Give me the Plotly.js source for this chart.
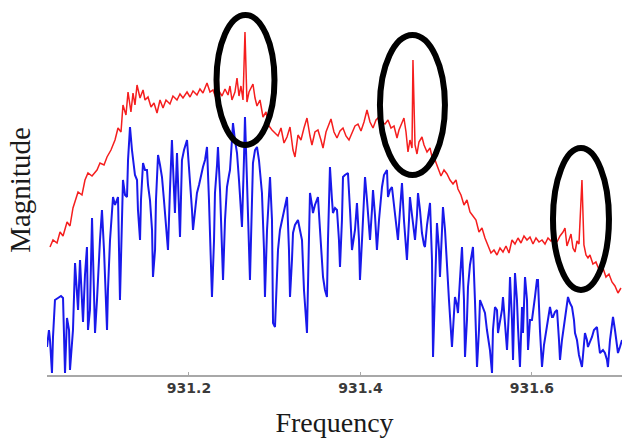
<!DOCTYPE html>
<html>
<head>
<meta charset="utf-8">
<script src="https://cdn.plot.ly/plotly-3.0.1.min.js"></script>
<style>html,body{margin:0;padding:0;background:#fff;}#chart{width:622px;height:438px;}</style>
</head>
<body>
<div id="chart"></div>
<script>
// Red trace (upper spectrum)
var redFreq = [931.0379,931.0414,931.0461,931.0496,931.0531,931.0578,931.0612,931.0647,931.0706,931.0752,931.0787,931.0822,931.0869,931.0927,931.0962,931.1009,931.1044,931.1090,931.1137,931.1172,931.1207,931.1230,931.1265,931.1289,931.1323,931.1347,931.1370,931.1394,931.1429,931.1464,931.1487,931.1522,931.1557,931.1592,931.1627,931.1662,931.1697,931.1732,931.1778,931.1813,931.1860,931.1895,931.1930,931.1977,931.2012,931.2047,931.2093,931.2128,931.2163,931.2210,931.2245,931.2280,931.2315,931.2350,931.2385,931.2420,931.2455,931.2478,931.2501,931.2536,931.2560,931.2583,931.2606,931.2630,931.2653,931.2676,931.2700,931.2723,931.2746,931.2770,931.2793,931.2828,931.2863,931.2898,931.2933,931.2968,931.3003,931.3038,931.3073,931.3108,931.3143,931.3178,931.3213,931.3236,931.3271,931.3306,931.3341,931.3376,931.3411,931.3434,931.3469,931.3504,931.3539,931.3563,931.3598,931.3633,931.3656,931.3691,931.3726,931.3761,931.3796,931.3831,931.3866,931.3901,931.3936,931.3971,931.4006,931.4041,931.4076,931.4111,931.4146,931.4181,931.4216,931.4251,931.4286,931.4321,931.4356,931.4391,931.4426,931.4449,931.4484,931.4507,931.4531,931.4554,931.4577,931.4601,931.4612,931.4636,931.4659,931.4682,931.4717,931.4741,931.4776,931.4811,931.4834,931.4869,931.4904,931.4939,931.4974,931.5009,931.5044,931.5079,931.5114,931.5137,931.5172,931.5207,931.5242,931.5277,931.5312,931.5347,931.5382,931.5417,931.5452,931.5487,931.5522,931.5557,931.5592,931.5627,931.5662,931.5697,931.5732,931.5767,931.5802,931.5837,931.5872,931.5907,931.5942,931.5977,931.6012,931.6047,931.6082,931.6117,931.6152,931.6187,931.6222,931.6257,931.6292,931.6327,931.6362,931.6385,931.6408,931.6432,931.6455,931.6478,931.6502,931.6525,931.6548,931.6583,931.6606,931.6630,931.6653,931.6676,931.6711,931.6746,931.6793,931.6828,931.6863,931.6898,931.6933,931.6968,931.7003,931.7038];
var redMag = [128,135,132,143,139,153,149,167,183,180,195,202,199,205,212,210,218,225,235,247,243,270,260,283,263,282,270,290,277,285,275,278,268,272,262,275,267,275,271,279,275,281,277,283,278,284,280,286,282,292,283,285,277,284,279,286,280,289,275,283,297,279,289,275,343,273,283,287,291,277,269,275,258,263,249,245,242,239,247,232,238,248,225,218,240,235,247,257,239,230,243,245,235,227,243,251,256,243,237,244,247,239,235,242,249,251,244,253,265,253,247,255,258,253,251,255,247,249,237,245,253,257,243,223,235,227,315,230,221,233,238,230,223,227,218,215,207,199,205,201,195,191,195,186,180,170,175,163,159,155,143,147,137,129,122,125,120,127,123,129,122,135,131,137,132,139,135,138,131,137,133,135,131,137,134,138,133,139,143,147,129,135,141,127,123,134,131,195,130,120,117,120,111,113,103,107,98,101,93,89,82,87];

// Blue trace (lower spectrum)
var blueFreq = [931.0344,931.0367,931.0379,931.0402,931.0414,931.0437,931.0472,931.0507,931.0531,931.0554,931.0577,931.0601,931.0612,931.0636,931.0647,931.0671,931.0694,931.0706,931.0729,931.0752,931.0764,931.0787,931.0810,931.0822,931.0845,931.0869,931.0892,931.0904,931.0927,931.0939,931.0962,931.0985,931.1009,931.1044,931.1055,931.1079,931.1102,931.1114,931.1137,931.1160,931.1172,931.1195,931.1219,931.1230,931.1254,931.1277,931.1289,931.1312,931.1335,931.1347,931.1370,931.1394,931.1405,931.1429,931.1440,931.1464,931.1487,931.1510,931.1522,931.1545,931.1569,931.1580,931.1604,931.1615,931.1639,931.1662,931.1685,931.1708,931.1720,931.1743,931.1755,931.1778,931.1801,931.1825,931.1836,931.1860,931.1883,931.1895,931.1918,931.1942,931.1977,931.2000,931.2012,931.2035,931.2047,931.2070,931.2093,931.2117,931.2128,931.2152,931.2163,931.2187,931.2210,931.2233,931.2257,931.2268,931.2292,931.2303,931.2327,931.2338,931.2362,931.2385,931.2397,931.2420,931.2443,931.2467,931.2478,931.2501,931.2513,931.2536,931.2560,931.2583,931.2595,931.2618,931.2641,931.2653,931.2676,931.2700,931.2711,931.2735,931.2746,931.2770,931.2793,931.2816,931.2840,931.2851,931.2875,931.2886,931.2910,931.2933,931.2945,931.2968,931.2980,931.3003,931.3026,931.3038,931.3061,931.3096,931.3120,931.3143,931.3166,931.3178,931.3201,931.3213,931.3236,931.3259,931.3271,931.3294,931.3318,931.3341,931.3365,931.3376,931.3399,931.3411,931.3434,931.3446,931.3469,931.3504,931.3528,931.3551,931.3563,931.3586,931.3609,931.3621,931.3644,931.3668,931.3679,931.3703,931.3726,931.3749,931.3761,931.3784,931.3796,931.3819,931.3854,931.3878,931.3901,931.3936,931.3959,931.3983,931.3994,931.4018,931.4041,931.4053,931.4076,931.4099,931.4111,931.4134,931.4146,931.4169,931.4192,931.4216,931.4251,931.4274,931.4309,931.4321,931.4344,931.4367,931.4391,931.4402,931.4426,931.4437,931.4461,931.4484,931.4507,931.4542,931.4566,931.4577,931.4601,931.4636,931.4659,931.4671,931.4694,931.4717,931.4741,931.4752,931.4776,931.4811,931.4834,931.4846,931.4869,931.4892,931.4916,931.4927,931.4951,931.4962,931.4986,931.5009,931.5032,931.5067,931.5090,931.5102,931.5125,931.5137,931.5160,931.5184,931.5207,931.5219,931.5242,931.5254,931.5277,931.5300,931.5312,931.5335,931.5359,931.5382,931.5394,931.5417,931.5452,931.5475,931.5510,931.5534,931.5545,931.5569,931.5592,931.5604,931.5627,931.5650,931.5662,931.5685,931.5709,931.5732,931.5744,931.5767,931.5779,931.5802,931.5825,931.5837,931.5860,931.5884,931.5895,931.5919,931.5942,931.5954,931.5977,931.6000,931.6023,931.6035,931.6058,931.6070,931.6093,931.6117,931.6140,931.6175,931.6198,931.6210,931.6233,931.6245,931.6268,931.6292,931.6315,931.6327,931.6350,931.6385,931.6408,931.6420,931.6443,931.6467,931.6490,931.6502,931.6525,931.6548,931.6583,931.6606,931.6618,931.6641,931.6653,931.6676,931.6700,931.6723,931.6758,931.6781,931.6793,931.6828,931.6851,931.6875,931.6886,931.6910,931.6945,931.6968,931.7003,931.7026,931.7050];
var blueMag = [28,45,35,2,38,75,77,79,77,2,57,45,5,28,45,112,85,65,115,75,53,100,128,45,65,157,95,42,75,97,135,165,125,45,85,135,165,178,170,175,178,75,175,195,180,178,215,248,225,215,200,195,165,135,175,212,205,205,190,175,145,98,125,175,220,210,198,175,162,135,125,185,235,185,162,222,175,138,215,225,235,210,195,165,145,165,182,190,195,203,208,215,228,175,115,78,135,182,210,228,185,125,95,155,188,200,205,235,252,235,222,195,175,148,215,258,195,135,95,175,212,225,228,215,195,182,125,78,145,185,198,155,52,48,95,125,145,158,170,178,125,78,115,142,150,153,155,145,135,85,55,42,135,182,170,162,170,178,145,115,98,85,78,135,208,175,162,167,165,135,108,155,198,200,202,165,125,145,172,135,95,135,185,198,175,150,135,165,185,160,125,155,188,200,205,178,185,188,170,158,145,135,165,192,155,115,155,178,160,135,160,182,165,142,130,128,150,172,115,18,85,152,125,98,145,168,145,115,75,28,65,78,70,62,95,128,75,18,55,88,110,120,128,75,8,45,75,70,62,45,25,2,45,68,65,42,52,65,78,55,25,65,98,55,15,102,75,48,8,68,42,98,75,25,55,55,75,78,95,95,45,8,30,48,60,68,58,58,63,65,35,15,35,58,75,78,72,68,55,42,35,20,8,30,42,35,28,33,38,45,48,30,22,25,22,15,8,35,58,45,22,28,35];

var tickVals = [931.2, 931.4, 931.6];
var tickText = ['931.2', '931.4', '931.6'];

var traces = [
  {x: blueFreq, y: blueMag, type: 'scatter', mode: 'lines', line: {color: 'rgb(25,25,235)', width: 2}, hoverinfo: 'skip'},
  {x: redFreq, y: redMag, type: 'scatter', mode: 'lines', line: {color: 'rgb(245,30,30)', width: 1.5}, hoverinfo: 'skip'}
];

var layout = {
  width: 622, height: 438,
  margin: {l: 47, r: 0, t: 5, b: 63},
  paper_bgcolor: '#ffffff', plot_bgcolor: '#ffffff',
  showlegend: false,
  xaxis: {
    range: [931.0344, 931.705],
    tickvals: tickVals, ticktext: tickText,
    showgrid: false, zeroline: false,
    showline: true, linecolor: '#a8a8a8', linewidth: 1.5,
    ticks: 'inside', ticklen: 3, tickcolor: '#a8a8a8', tickwidth: 1,
    tickfont: {family: 'DejaVu Sans', size: 14, color: '#3a3a3a', weight: 700},
    title: {text: 'Frequency', font: {family: 'Liberation Serif', size: 28, color: '#1a1a1a'}, standoff: 22}
  },
  yaxis: {
    range: [0, 370],
    showgrid: false, zeroline: false, showline: false,
    showticklabels: false, ticks: '',
    title: {text: 'Magnitude', font: {family: 'Liberation Serif', size: 29, color: '#1a1a1a'}, standoff: 6}
  },
  shapes: [
    {type: 'circle', xref: 'x', yref: 'y', x0: 931.2321, x1: 931.2997, y0: 230, y1: 360, line: {color: '#000000', width: 6}},
    {type: 'circle', xref: 'x', yref: 'y', x0: 931.4227, x1: 931.4985, y0: 200, y1: 340, line: {color: '#000000', width: 6}},
    {type: 'circle', xref: 'x', yref: 'y', x0: 931.6245, x1: 931.6898, y0: 85, y1: 227, line: {color: '#000000', width: 6}}
  ]
};

Plotly.newPlot('chart', traces, layout, {displayModeBar: false, staticPlot: true});
</script>
</body>
</html>
